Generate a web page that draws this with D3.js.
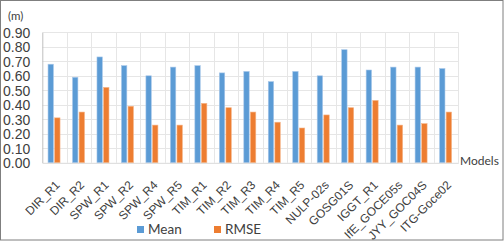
<!DOCTYPE html>
<html><head><meta charset="utf-8">
<script src="https://cdn.jsdelivr.net/npm/d3@7"></script>
<style>
body{margin:0;background:#fff;}
svg{display:block;font-family:Lato, "Open Sans", sans-serif;}
</style></head>
<body>
<svg id="chart" width="504" height="241"></svg>
<script>
const categories = ["DIR_R1","DIR_R2","SPW_R1","SPW_R2","SPW_R4","SPW_R5","TIM_R1","TIM_R2","TIM_R3","TIM_R4","TIM_R5","NULP-02s","GOSG01S","IGGT_R1","IfE_GOCE05s","JYY_GOC04S","ITG-Goce02"];
const meanValues = [0.68,0.59,0.73,0.67,0.60,0.66,0.67,0.62,0.63,0.56,0.63,0.60,0.78,0.64,0.66,0.66,0.65];
const rmseValues = [0.31,0.35,0.52,0.39,0.26,0.26,0.41,0.38,0.35,0.28,0.24,0.33,0.38,0.43,0.26,0.27,0.35];
const yTicks = [0,0.1,0.2,0.3,0.4,0.5,0.6,0.7,0.8,0.9];
const seriesNames = ["Mean","RMSE"];
const colors = ["#5B9BD5","#ED7D31"];

(function(){
const svg = d3.select("#chart");
const W = 504, H = 241;
svg.append("rect").attr("x",0.5).attr("y",0.5).attr("width",W-1.5).attr("height",H-1.5)
  .attr("fill","#fff").attr("stroke","#7f7f7f").attr("stroke-width",1);

const mLeft = 42.3, mRight = 458.3, mTop = 32.3, mBottom = 162.8;
const x = d3.scaleBand().domain(categories).range([mLeft,mRight]).padding(0);
const y = d3.scaleLinear().domain([0,0.9]).range([mBottom,mTop]);

// horizontal grid
svg.append("g").selectAll("line").data(yTicks.slice(1)).join("line")
  .attr("x1",mLeft).attr("x2",mRight)
  .attr("y1",d=>Math.round(y(d))+0.5).attr("y2",d=>Math.round(y(d))+0.5)
  .attr("stroke","#e6e6e6").attr("stroke-width",1);
// vertical grid
svg.append("g").selectAll("line").data(categories).join("line")
  .attr("x1",d=>Math.round(x(d)+x.bandwidth())+0.5).attr("x2",d=>Math.round(x(d)+x.bandwidth())+0.5)
  .attr("y1",mTop).attr("y2",mBottom)
  .attr("stroke","#e6e6e6").attr("stroke-width",1);

// y axis
const yAxis = d3.axisLeft(y).tickValues(yTicks).tickFormat(d3.format(".2f")).tickSize(0).tickPadding(12);
const gy = svg.append("g").attr("transform",`translate(${mLeft},0)`).call(yAxis);
gy.select(".domain").attr("stroke","#bfbfbf");
gy.selectAll("text").attr("fill","#404040").attr("font-size","14px").attr("dy","0.36em");

// bars
const barW = 5.4, gap = 1.2;
const series = [meanValues, rmseValues];
series.forEach((vals,si)=>{
  svg.append("g").selectAll("rect").data(vals).join("rect")
    .attr("x",(d,i)=>x(categories[i]) + x.bandwidth()/2 - 0.5 + (si===0 ? -(barW+gap/2) : gap/2))
    .attr("width",barW)
    .attr("y",d=>y(d))
    .attr("height",d=>y(0)-y(d))
    .attr("fill",colors[si])
    .attr("stroke", si===0 ? "#a9c8ea" : "#f5b589").attr("stroke-width",0.6);
});

// x axis
const xAxis = d3.axisBottom(x).tickSize(0).tickPadding(0);
const gx = svg.append("g").attr("transform",`translate(0,${mBottom})`).call(xAxis);
gx.select(".domain").attr("stroke","#d9d9d9");
gx.selectAll("text")
  .attr("fill","#404040").attr("font-size","12px")
  .attr("text-anchor","end")
  .attr("y",0).attr("dy",0)
  .attr("transform","translate(6,23) rotate(-45)");

// unit and axis title
svg.append("text").attr("x",8).attr("y",20).attr("font-size","11.5px").attr("fill","#404040").text("(m)");
svg.append("text").attr("x",460).attr("y",165).attr("font-size","12px").attr("fill","#404040").text("Models");

// legend
const legX = [137, 214];
seriesNames.forEach((n,i)=>{
  svg.append("rect").attr("x",legX[i]).attr("y",226).attr("width",7).attr("height",7).attr("fill",colors[i]);
  svg.append("text").attr("x",legX[i]+11).attr("y",234).attr("font-size","13.5px").attr("fill","#404040").text(n);
});
})();
</script>
</body></html>
